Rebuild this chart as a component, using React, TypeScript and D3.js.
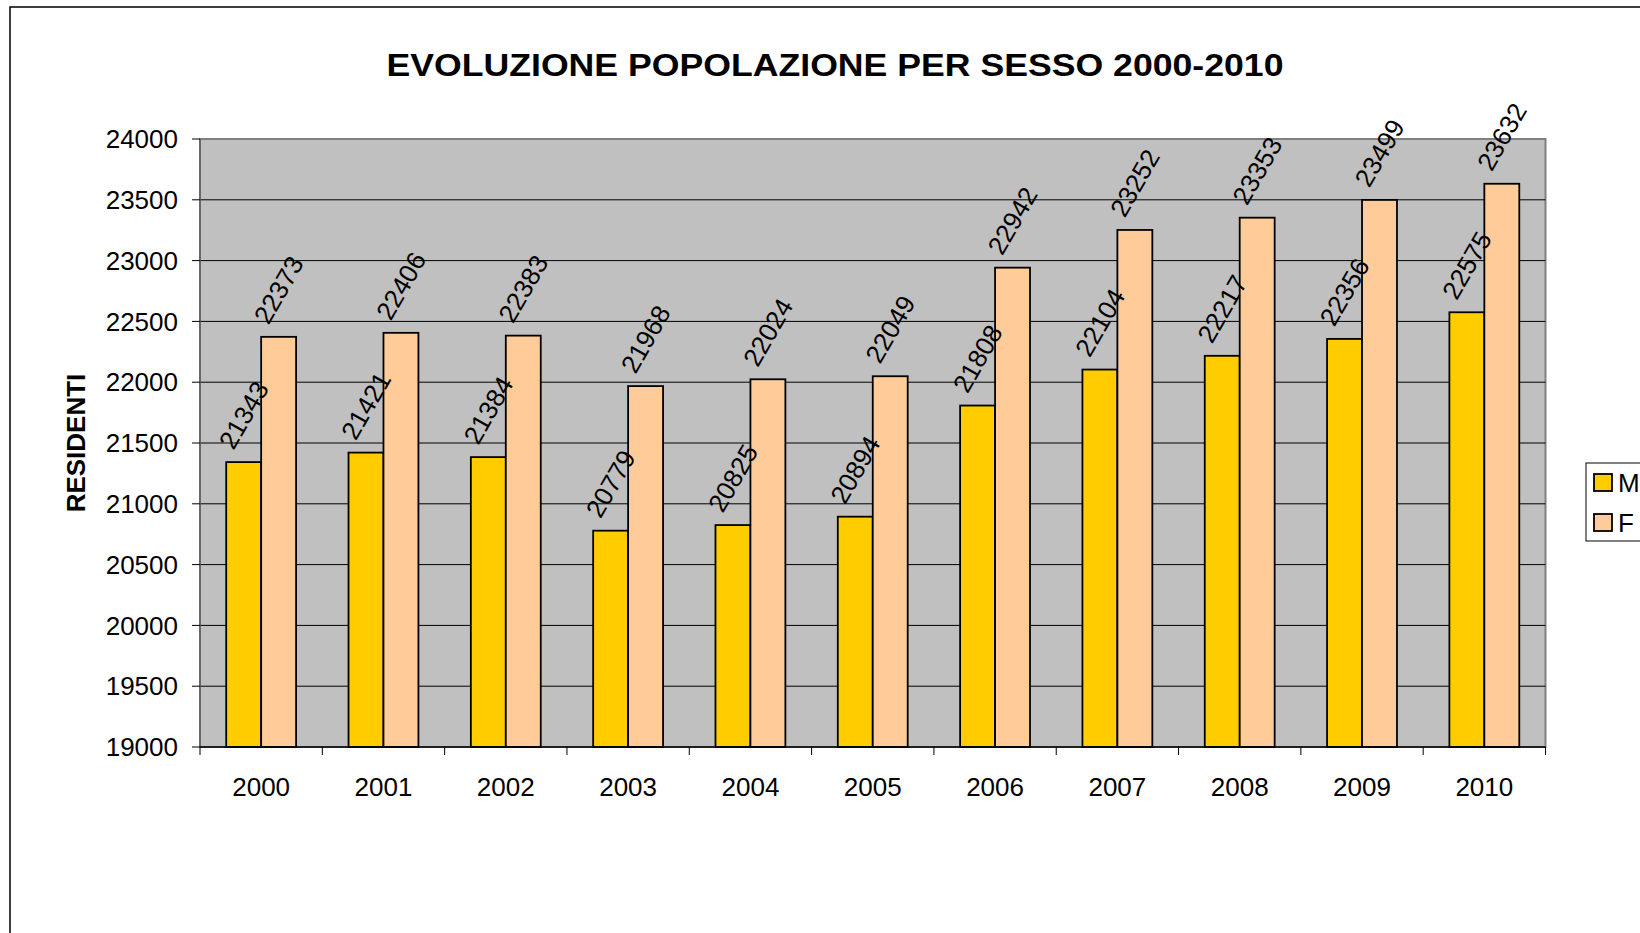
import React from "react";
import * as d3 from "d3";

const years = ["2000","2001","2002","2003","2004","2005","2006","2007","2008","2009","2010"];
const maschi = [21343, 21421, 21384, 20779, 20825, 20894, 21808, 22104, 22217, 22356, 22575];
const femmine = [22373, 22406, 22383, 21968, 22024, 22049, 22942, 23252, 23353, 23499, 23632];
const yTicks = [19000, 19500, 20000, 20500, 21000, 21500, 22000, 22500, 23000, 23500, 24000];
const series = [
  { key: "M", values: maschi, color: "#FFCC00" },
  { key: "F", values: femmine, color: "#FFCC99" },
];
const title = "EVOLUZIONE POPOLAZIONE PER SESSO 2000-2010";
const yTitle = "RESIDENTI";

export default function App() {
  const W = 1640, H = 933;
  const left = 200, right = 1545.5, top = 139, bottom = 747;
  const x = d3.scaleBand<string>().domain(years).range([left, right]).padding(0);
  const inner = d3.scaleBand<string>().domain(series.map(s => s.key)).range([0, x.bandwidth()]).paddingInner(0).paddingOuter(0.75);
  const y = d3.scaleLinear().domain([19000, 24000]).range([bottom, top]);
  const font = "'Liberation Sans', Arial, sans-serif";
  const boundaries = d3.range(years.length + 1).map(i => left + i * x.step());

  return (
    <svg width={W} height={H} style={{ position: "fixed", left: 0, top: 0 }} fontFamily={font}>
      <rect x={0} y={0} width={W} height={H} fill="#fff" />
      <rect x={10} y={7} width={W + 20} height={H + 20} fill="none" stroke="#000" strokeWidth={1.5} />
      <text x={835} y={76} textAnchor="middle" fontSize={32} fontWeight="bold" textLength={897} lengthAdjust="spacingAndGlyphs">{title}</text>
      <rect x={left} y={top} width={right - left} height={bottom - top} fill="#C0C0C0" stroke="#808080" strokeWidth={2} />
      {yTicks.slice(1, -1).map(t => (
        <line key={t} x1={left} x2={right} y1={y(t)} y2={y(t)} stroke="#000" strokeWidth={1} />
      ))}
      {series.map(s => s.values.map((v, i) => {
        const bx = (x(years[i]) as number) + (inner(s.key) as number);
        return (
          <rect key={s.key + i} x={bx} y={y(v)} width={inner.bandwidth()} height={bottom - y(v)}
            fill={s.color} stroke="#000" strokeWidth={1.8} />
        );
      }))}
      <line x1={left} x2={left} y1={top} y2={bottom} stroke="#606060" strokeWidth={1.5} />
      <line x1={left} x2={right} y1={bottom} y2={bottom} stroke="#000" strokeWidth={1.5} />
      {yTicks.map(t => (
        <g key={t}>
          <line x1={left - 8} x2={left} y1={y(t)} y2={y(t)} stroke="#000" strokeWidth={1} />
          <text x={178} y={y(t)} dy="0.35em" textAnchor="end" fontSize={26}>{t}</text>
        </g>
      ))}
      {boundaries.map((b, i) => (
        <line key={i} x1={b} x2={b} y1={bottom} y2={bottom + 8} stroke="#000" strokeWidth={1} />
      ))}
      {years.map(yr => (
        <text key={yr} x={(x(yr) as number) + x.bandwidth() / 2} y={796} textAnchor="middle" fontSize={26}>{yr}</text>
      ))}
      <text transform={`translate(85,443) rotate(-90)`} textAnchor="middle" fontSize={26} fontWeight="bold">{yTitle}</text>
      {series.map(s => s.values.map((v, i) => {
        const cx = (x(years[i]) as number) + (inner(s.key) as number) + inner.bandwidth() / 2;
        const cy = y(v) - 47;
        return (
          <text key={"l" + s.key + i} transform={`translate(${cx},${cy}) rotate(-60)`} textAnchor="middle" dy="0.35em" fontSize={26}>{v}</text>
        );
      }))}
      <rect x={1586} y={463} width={80} height={78} fill="#fff" stroke="#000" strokeWidth={1} />
      {series.map((s, i) => (
        <g key={"lg" + s.key}>
          <rect x={1594} y={474 + i * 40} width={18} height={17} fill={s.color} stroke="#000" strokeWidth={1.8} />
          <text x={1618} y={492 + i * 40} fontSize={26}>{s.key}</text>
        </g>
      ))}
    </svg>
  );
}
